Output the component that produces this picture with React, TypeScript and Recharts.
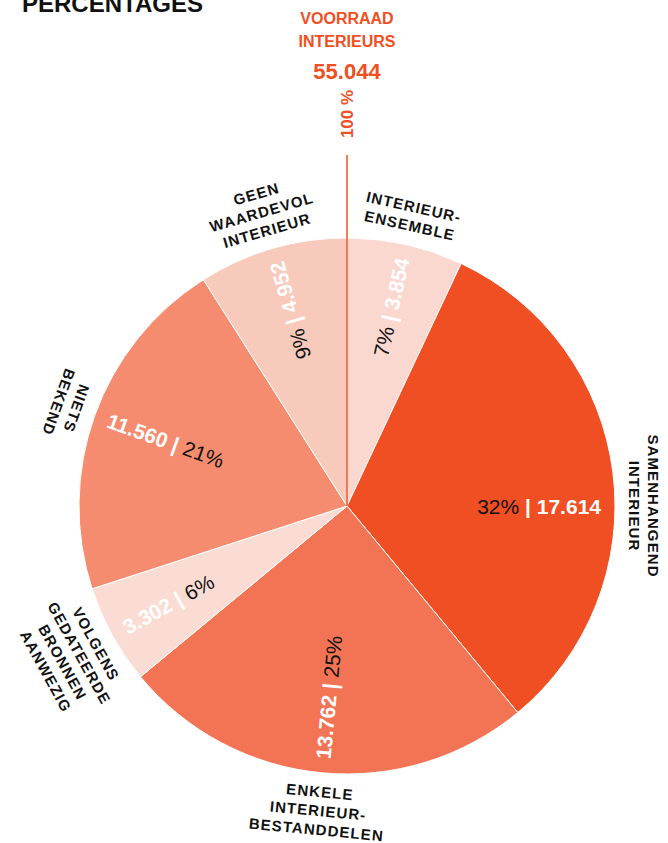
import React from 'react';
import { PieChart, Pie, Cell } from 'recharts';

// Categories in clockwise order starting at 12 o'clock
const CATEGORIES = [
    'INTERIEUR-\nENSEMBLE',
    'SAMENHANGEND\nINTERIEUR',
    'ENKELE\nINTERIEUR-\nBESTANDDELEN',
    'VOLGENS\nGEDATEERDE\nBRONNEN\nAANWEZIG',
    'NIETS\nBEKEND',
    'GEEN\nWAARDEVOL\nINTERIEUR',
];
const COUNTS = [3854, 17614, 13762, 3302, 11560, 4952];
const COLORS = ['#fad8cf', '#f04e23', '#f37455', '#fbdcd4', '#f58b6f', '#f8cabb'];

const TITLE = 'PERCENTAGES';
const TOTAL_TITLE = ['VOORRAAD', 'INTERIEURS'];

const ORANGE = '#f04e23';
const FONT = '"Liberation Sans", Arial, sans-serif';
const CX = 347;
const CY = 506;
const R = 268;
const RADIAN = Math.PI / 180;

const data = CATEGORIES.map((name, i) => ({ name, value: COUNTS[i] }));
const total = COUNTS.reduce((a, b) => a + b, 0);

// Dutch thousands separator: 17614 -> 17.614
const fmt = (n: number) => String(n).replace(/\B(?=(\d{3})+(?!\d))/g, '.');

// near-horizontal slices get a horizontal label
const snap = (a: number) => (Math.abs(a) < 10 ? 0 : a);

const renderLabel = (props: any) => {
    const { cx, cy, midAngle, outerRadius, percent, index, value } = props;
    if (midAngle === undefined) return null;
    const numCx = Number(cx);
    const numCy = Number(cy);
    const ang = snap(midAngle);
    const cos = Math.cos(-ang * RADIAN);
    const sin = Math.sin(-ang * RADIAN);

    // inner label, runs along the radius, number towards the rim
    let rot = -ang;
    rot = ((rot + 180) % 360 + 360) % 360 - 180;
    const outward = rot >= -120 && rot <= 90;
    if (!outward) rot = rot > 0 ? rot - 180 : rot + 180;
    const rIn = outerRadius - 14;
    const px = numCx + rIn * cos;
    const py = numCy + rIn * sin;
    const pct = <tspan fill="#111" fontWeight={400}>{`${Math.round(percent * 100)}%`}</tspan>;
    const bar = <tspan fill="#fff" fontWeight={700}>{' | '}</tspan>;
    const num = <tspan fill="#fff" fontWeight={700}>{fmt(value)}</tspan>;

    // outer label, tangential, several lines
    const lines = String(CATEGORIES[index]).split('\n');
    const lh = 19;
    const rOut = outerRadius + 20 + 9 * (lines.length - 1);
    const ox = numCx + rOut * cos;
    const oy = numCy + rOut * sin;
    let trot = 90 - ang;
    trot = (((trot + 60) % 180) + 180) % 180 - 60;

    return (
        <g>
            <text
                x={px}
                y={py}
                dy="0.36em"
                textAnchor={outward ? 'end' : 'start'}
                transform={`rotate(${rot}, ${px}, ${py})`}
                style={{ fontSize: 21, fontFamily: FONT }}
            >
                {outward ? <>{pct}{bar}{num}</> : <>{num}{bar}{pct}</>}
            </text>
            <g transform={`rotate(${trot}, ${ox}, ${oy})`}>
                {lines.map((l, i) => (
                    <text
                        key={i}
                        x={ox}
                        y={oy + (i - (lines.length - 1) / 2) * lh}
                        dy="0.36em"
                        textAnchor="middle"
                        fill="#111"
                        style={{ fontSize: 15, fontWeight: 700, fontFamily: FONT, letterSpacing: 1.1 }}
                    >
                        {l}
                    </text>
                ))}
            </g>
        </g>
    );
};

const App: React.FC = () => {
    return (
        <div style={{ position: 'absolute', left: 0, top: 0, width: 668, height: 843, background: '#fff', overflow: 'hidden' }}>
            <PieChart width={668} height={843} margin={{ top: 0, right: 0, bottom: 0, left: 0 }}>
                <Pie
                    data={data}
                    dataKey="value"
                    nameKey="name"
                    cx={CX}
                    cy={CY}
                    outerRadius={R}
                    startAngle={90}
                    endAngle={-270}
                    stroke="#fff"
                    strokeWidth={1}
                    label={renderLabel}
                    labelLine={false}
                    isAnimationActive={false}
                >
                    {data.map((entry, index) => (
                        <Cell key={`cell-${index}`} fill={COLORS[index % COLORS.length]} />
                    ))}
                </Pie>
            </PieChart>
            <svg
                width={668}
                height={843}
                style={{ position: 'absolute', left: 0, top: 0, pointerEvents: 'none' }}
            >
                <text x={22} y={12} fill="#111" style={{ fontSize: 24, fontWeight: 700, fontFamily: FONT }}>
                    {TITLE}
                </text>
                {TOTAL_TITLE.map((t, i) => (
                    <text
                        key={t}
                        x={CX}
                        y={24 + i * 23}
                        textAnchor="middle"
                        fill={ORANGE}
                        style={{ fontSize: 16, fontWeight: 600, fontFamily: FONT }}
                    >
                        {t}
                    </text>
                ))}
                <text x={CX} y={79} textAnchor="middle" fill={ORANGE} style={{ fontSize: 22, fontWeight: 700, fontFamily: FONT }}>
                    {fmt(total)}
                </text>
                <text
                    x={CX}
                    y={114}
                    dy="0.36em"
                    textAnchor="middle"
                    fill={ORANGE}
                    transform={`rotate(-90, ${CX}, 114)`}
                    style={{ fontSize: 17, fontWeight: 700, fontFamily: FONT }}
                >
                    100 %
                </text>
                <line x1={CX} y1={155} x2={CX} y2={CY} stroke={ORANGE} strokeWidth={1.5} />
            </svg>
        </div>
    );
};

export default App;
